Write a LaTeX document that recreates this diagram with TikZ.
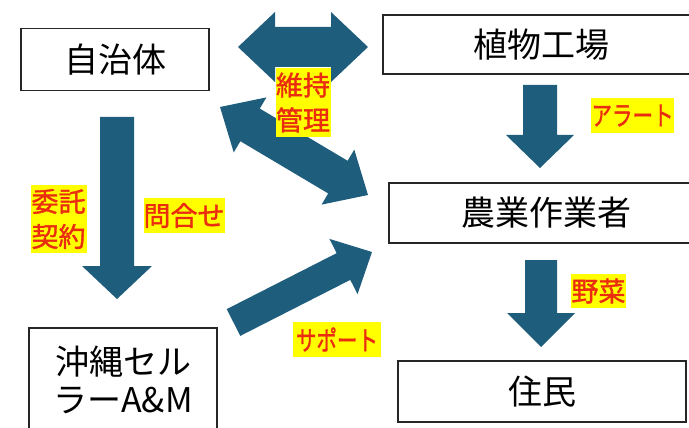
\documentclass[tikz,border=0pt]{standalone}
\usepackage{fontspec}
\setmainfont{Noto Sans CJK JP}
\newfontfamily\tagfont{Noto Sans CJK JP}[FakeBold=1.4]
\usetikzlibrary{calc}
\definecolor{arrowblue}{RGB}{31,93,124}
\definecolor{labelred}{RGB}{235,45,15}
\definecolor{labelyellow}{RGB}{255,255,0}
\tikzset{
  box/.style={draw=black!85, line width=1.6pt, fill=white, font=\fontsize{34}{38}\selectfont, align=center, inner sep=0pt},
  tag/.style={fill=labelyellow, text=labelred, font=\tagfont\fontsize{27}{35}\selectfont, align=center, inner sep=0pt},
  barrow/.style={fill=arrowblue},
}
\newcommand\narrow[1]{\scalebox{0.76}[1]{#1}}
% single block arrow: #1 tail, #2 tip, #3 shaft half width, #4 head half width, #5 head length
\newcommand\blkarrow[5]{%
  \coordinate (hA) at ($(#2)!#5!(#1)$);
  \fill[barrow] ($(#1)!#3!90:(#2)$) -- ($(hA)!#3!90:(#2)$) -- ($(hA)!#4!90:(#2)$) -- (#2)
    -- ($(hA)!#4!-90:(#2)$) -- ($(hA)!#3!-90:(#2)$) -- ($(#1)!#3!-90:(#2)$) -- cycle;}
% double block arrow
\newcommand\dblarrow[5]{%
  \coordinate (hA) at ($(#1)!#5!(#2)$);
  \coordinate (hB) at ($(#2)!#5!(#1)$);
  \fill[barrow] (#1) -- ($(hA)!#4!90:(#2)$) -- ($(hA)!#3!90:(#2)$) -- ($(hB)!#3!90:(#2)$)
    -- ($(hB)!#4!90:(#2)$) -- (#2) -- ($(hB)!#4!-90:(#2)$) -- ($(hB)!#3!-90:(#2)$)
    -- ($(hA)!#3!-90:(#2)$) -- ($(hA)!#4!-90:(#2)$) -- cycle;}
\begin{document}
\begin{tikzpicture}[x=1pt,y=-1pt]
\useasboundingbox (0,0) rectangle (689,428);
\clip (0,0) rectangle (689,428);
% boxes
\node[box, minimum width=188pt, minimum height=62pt] (jichitai) at (115,59.5) {自治体};
\node[box, minimum width=316pt, minimum height=59pt] (plant) at (541,44.5) {植物工場};
\node[box, minimum width=314pt, minimum height=60pt] (farmer) at (546,213) {農業作業者};
\node[box, minimum width=288pt, minimum height=61pt] (resident) at (542,391.5) {住民};
\node[box, minimum width=188pt, minimum height=104pt] (okinawa) at (123,380) {沖縄セル\\ラーA\&M};
% arrow end points
\coordinate (t1a) at (238,47);  \coordinate (t1b) at (368,47);
\coordinate (d1a) at (220,107); \coordinate (d1b) at (368,195);
\coordinate (v1a) at (117,117); \coordinate (v1b) at (117,299);
\coordinate (s1a) at (233.5,322.5); \coordinate (s1b) at (372,252);
\coordinate (v2a) at (540,85);  \coordinate (v2b) at (540,168);
\coordinate (v3a) at (541,260); \coordinate (v3b) at (541,347);
% arrows
\dblarrow{t1a}{t1b}{20pt}{35pt}{37pt}
\dblarrow{d1a}{d1b}{19pt}{32pt}{35pt}
\blkarrow{v1a}{v1b}{17pt}{35pt}{33pt}
\blkarrow{s1a}{s1b}{15pt}{31pt}{32pt}
\blkarrow{v2a}{v2b}{17pt}{34pt}{33pt}
\blkarrow{v3a}{v3b}{16pt}{34pt}{34pt}
% labels
\node[tag, minimum width=55pt, minimum height=69pt] (lbl1) at (303,102.5) {維持\\管理};
\node[tag, minimum width=56pt, minimum height=68pt] (lbl2) at (58.5,219) {委託\\契約};
\node[tag, minimum width=80pt, minimum height=35pt] (lbl3) at (184,215.5) {問合せ};
\node[tag, minimum width=88pt, minimum height=35pt] (lbl4) at (337,339.5) {\narrow{サポート}};
\node[tag, minimum width=81pt, minimum height=35pt] (lbl5) at (632.5,115.5) {\narrow{アラート}};
\node[tag, minimum width=55pt, minimum height=34pt] (lbl6) at (598.5,291) {野菜};
\end{tikzpicture}
\end{document}
